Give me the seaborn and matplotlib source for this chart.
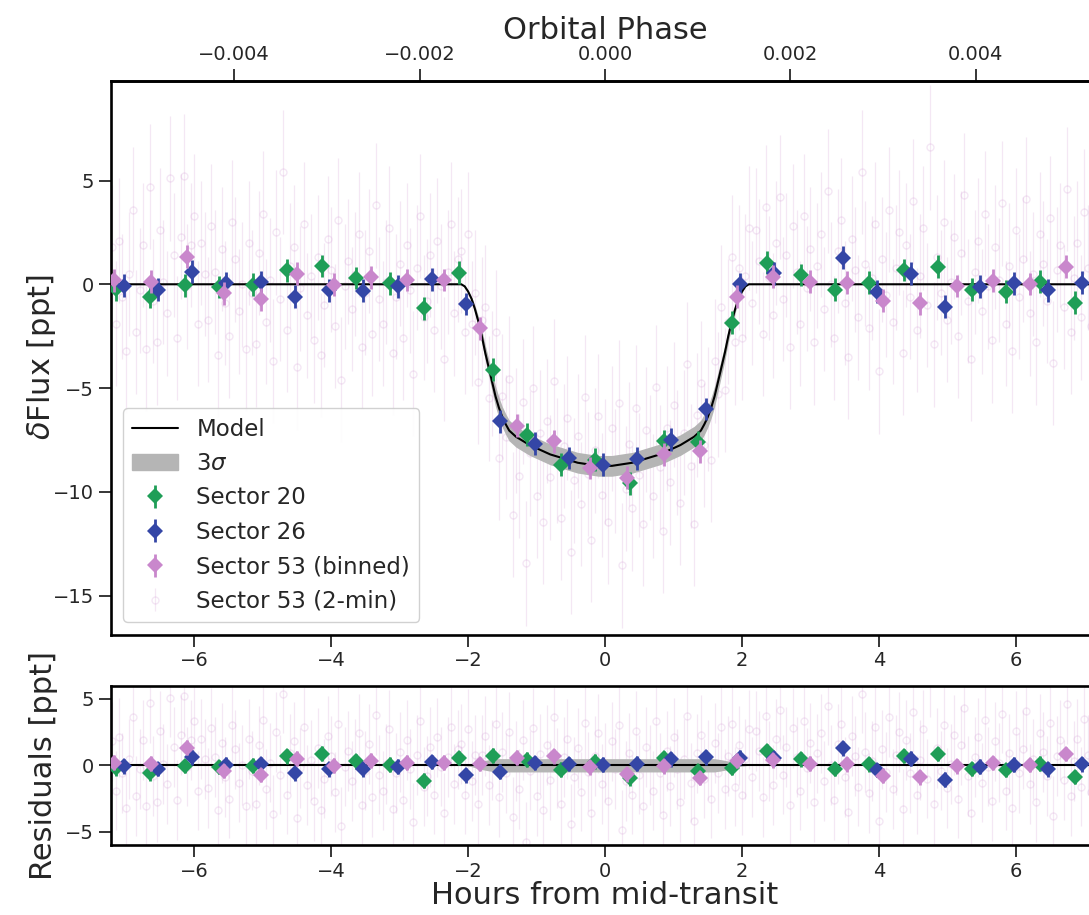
import numpy as np
import matplotlib
matplotlib.use("Agg")
import matplotlib.pyplot as plt
import seaborn as sns
from matplotlib.lines import Line2D
from matplotlib.patches import Patch

# ---------------- data ----------------
# transit model (hours from mid-transit, ppt)
model_hours = [-7.22, -2.10, -2.05, -2.00, -1.95, -1.90, -1.85, -1.80, -1.75, -1.70,
               -1.65, -1.60, -1.55, -1.50, -1.45, -1.40, -1.35, -1.30, -1.20, -1.10,
               -1.00, -0.90, -0.80, -0.70, -0.60, -0.50, -0.40, -0.30, -0.20, -0.10,
               0.00, 0.10, 0.20, 0.30, 0.40, 0.50, 0.60, 0.70, 0.80, 0.90,
               1.00, 1.10, 1.20, 1.30, 1.35, 1.40, 1.45, 1.50, 1.55, 1.60,
               1.65, 1.70, 1.75, 1.80, 1.85, 1.90, 1.95, 2.00, 2.05, 2.10, 7.22]
model_flux = [0.0, 0.0, -0.1, -0.35, -0.7, -1.2, -1.8, -2.5, -3.3, -4.0,
              -4.7, -5.4, -5.95, -6.4, -6.75, -7.05, -7.2, -7.35, -7.55, -7.75,
              -7.9, -8.05, -8.2, -8.3, -8.4, -8.5, -8.6, -8.65, -8.7, -8.75,
              -8.75, -8.75, -8.7, -8.65, -8.6, -8.5, -8.4, -8.3, -8.2, -8.05,
              -7.9, -7.75, -7.55, -7.35, -7.2, -7.05, -6.75, -6.4, -5.95, -5.4,
              -4.7, -4.0, -3.3, -2.5, -1.8, -1.2, -0.7, -0.35, -0.1, 0.0, 0.0]
band_halfwidth = [0.0, 0.0, 0.03, 0.06, 0.1, 0.18, 0.25, 0.32, 0.37, 0.42,
                  0.46, 0.5, 0.5, 0.5, 0.5, 0.5, 0.5, 0.5, 0.5, 0.5,
                  0.5, 0.5, 0.5, 0.5, 0.5, 0.5, 0.5, 0.5, 0.5, 0.5,
                  0.5, 0.5, 0.5, 0.5, 0.5, 0.5, 0.5, 0.5, 0.5, 0.5,
                  0.5, 0.5, 0.5, 0.5, 0.5, 0.5, 0.5, 0.5, 0.5, 0.5,
                  0.46, 0.42, 0.37, 0.32, 0.25, 0.18, 0.1, 0.06, 0.03, 0.0, 0.0]

# Sector 20
s20_hours = [-7.14, -6.64, -6.14, -5.64, -5.14, -4.64, -4.14, -3.64, -3.14, -2.64,
             -2.14, -1.64, -1.14, -0.64, -0.14, 0.36, 0.86, 1.36, 1.86, 2.36,
             2.86, 3.36, 3.86, 4.36, 4.86, 5.36, 5.86, 6.36, 6.86]
s20_flux = [-0.24, -0.6, -0.05, -0.13, -0.03, 0.67, 0.88, 0.3, 0.05, -1.15,
            0.56, -4.12, -7.24, -8.69, -8.45, -9.6, -7.57, -7.6, -1.85, 1.04,
            0.45, -0.27, 0.08, 0.69, 0.85, -0.27, -0.35, 0.13, -0.88]

# Sector 26
s26_hours = [-7.03, -6.53, -6.03, -5.53, -5.03, -4.53, -4.03, -3.53, -3.03, -2.53,
             -2.03, -1.53, -1.03, -0.53, -0.03, 0.47, 0.97, 1.47, 1.97, 2.47,
             3.47, 3.97, 4.47, 4.97, 5.47, 5.97, 6.47, 6.97]
s26_flux = [-0.07, -0.27, 0.6, 0.05, 0.1, -0.6, -0.3, -0.31, -0.1, 0.24,
            -0.95, -6.6, -7.68, -8.37, -8.69, -8.41, -7.49, -6.01, 0.01, 0.53,
            1.28, -0.36, 0.5, -1.08, -0.11, 0.05, -0.3, 0.08]

# Sector 53 (binned)
s53b_hours = [-7.17, -6.635, -6.10, -5.565, -5.03, -4.495, -3.96, -3.425, -2.89, -2.355,
              -1.82, -1.285, -0.75, -0.215, 0.32, 0.855, 1.39, 1.925, 2.46, 2.995,
              3.53, 4.065, 4.60, 5.135, 5.67, 6.205, 6.74]
s53b_flux = [0.2, 0.12, 1.33, -0.43, -0.72, 0.5, -0.03, 0.34, 0.21, 0.21,
             -2.12, -6.81, -7.57, -8.85, -9.33, -8.2, -8.05, -0.6, 0.37, 0.13,
             0.08, -0.79, -0.91, -0.08, 0.17, 0.01, 0.85]

# Sector 53 (2-min), hours -7.20 ... 7.20 every 0.05 h
s53_2min_pre = [1.8, -1.9, 2.1, -0.6, -3.2, 0.5, 3.6, -2.3, -0.3, 1.9, -3.1, 4.7, -0.8, -2.8, 2.6, 0.1, -1.4, 5.1, 1.4, -2.6,
                2.3, 5.2, -0.1, 1.9, 3.3, -1.9, 2.0, 0.5, -1.7, 2.8, 0.6, -3.4, 1.7, -0.9, -2.5, 3.0, 1.2, -1.3, 0.0, -3.1,
                2.0, -0.4, -2.9, 1.5, 3.4, -1.8, 0.2, -3.7, 2.5, -0.7, 5.4, -2.2, 0.9, 1.8, -4.0, -0.2, 2.9, -1.5, 0.4, -2.7,
                1.3, -3.4, -1.0, 2.2, 0.7, -2.0, 3.1, -4.6, -0.1, 1.1, -1.2, 0.5, 2.4, -3.0, -0.4, 1.6, -2.4, 3.8, -0.7, -1.9,
                0.1, 2.7, -3.3, -0.6, 1.0, -2.6, 1.9, -0.3, -4.3, 0.8, 3.3, -1.6, -0.8, 1.4, -2.2, 2.1, -0.1, -3.6, 0.6, 2.9,
                -1.4, 1.2]
s53_2min_in = [1.6, -2.3, 2.4, -1.9, -0.4, -4.7, -1.7, -1.1, -5.5, -4.3,
               -2.3, -8.35, -5.4, -7.35, -4.55, -11.1, -7.05, -9.25, -5.65, -13.45,
               -8.15, -5.0, -10.2, -7.15, -11.45, -6.6, -9.3, -4.65, -8.5, -11.25,
               -7.8, -6.45, -12.9, -9.45, -7.3, -10.6, -5.45, -9.15, -12.3, -8.0,
               -6.35, -10.15, -8.55, -11.45, -6.95, -9.0, -5.7, -13.55, -9.85, -7.7,
               -10.8, -5.95, -9.2, -11.55, -7.0, -8.35, -10.2, -4.95, -8.8, -11.9,
               -6.95, -9.55, -5.8, -8.1, -10.55, -7.15, -3.85, -8.75, -11.55, -6.3,
               -4.75, -7.75, -6.0, -8.45, -3.7, -5.3, -1.1, -5.1, -1.8, 1.3,
               -2.8, 0.8, -2.6, 0.4, 2.7]
s53_2min_post = [-0.9, 2.6, 1.1, -2.4, 3.7, 0.3, -1.5, 2.0, 4.2, -0.7, 1.4, -3.0, 2.8, 0.6, -1.9, 3.3, -0.2, 1.7, -2.8, 0.9,
                 2.4, -1.2, 4.5, 0.0, -2.6, 1.6, 3.1, -0.9, -3.5, 2.2, 0.7, -1.6, 5.4, 1.0, -2.1, 0.3, 2.9, -4.2, 1.2, -0.5,
                 3.6, -1.8, 0.8, 2.5, -3.3, 1.9, -0.6, 4.0, -2.2, 0.4, 2.7, -1.0, 6.6, -2.9, 1.3, -0.4, 3.0, -1.7, 0.1, 2.3,
                 -2.5, 1.5, 4.3, -0.8, -3.6, 0.6, 2.1, -1.3, 3.4, -0.1, -2.7, 1.8, 0.2, 3.9, -1.9, 0.9, -3.2, 2.6, -0.6, 1.2,
                 4.1, -1.4, 0.5, -2.8, 2.4, 1.0, -0.8, 3.2, -3.8, 0.7, 1.9, -1.1, 4.6, -2.3, 0.3, 2.0, -1.6, 3.5, 0.8, -2.0,
                 1.6, -0.7]

period_hours = 1354.0   # 0.002 in phase == 2.708 h

# ---------------- styling ----------------
sns.set_theme(style="ticks")
plt.rcParams.update({
    "font.family": ["DejaVu Sans"],
    "axes.linewidth": 1.9,
    "axes.edgecolor": "black",
    "xtick.major.size": 8.5, "ytick.major.size": 8.5,
    "xtick.major.width": 1.3, "ytick.major.width": 1.3,
    "xtick.labelsize": 14, "ytick.labelsize": 14,
    "xtick.color": "#262626", "ytick.color": "#262626",
    "axes.labelsize": 22, "axes.labelcolor": "#262626",
})

c20 = "#1f9e57"
c26 = "#3446a6"
c53 = "#c987cc"
band_col = "#b5b5b5"

mh = np.array(model_hours)
mf = np.array(model_flux)
bw = np.array(band_halfwidth)

t2 = np.linspace(-7.2, 7.2, 289)
f2 = np.array(s53_2min_pre + s53_2min_in + s53_2min_post)


def resid(h, f):
    return np.asarray(f) - np.interp(h, mh, mf)


fig = plt.figure(figsize=(10.89, 9.15), dpi=100)
ax = fig.add_axes([0.1017, 0.3065, 0.9078, 0.6053])
axr = fig.add_axes([0.1017, 0.0765, 0.9078, 0.1742])

for a, kind in ((ax, "flux"), (axr, "res")):
    if kind == "flux":
        y2, y20, y26, y53 = f2, s20_flux, s26_flux, s53b_flux
        mline = mf
    else:
        y2 = resid(t2, f2)
        y20 = resid(s20_hours, s20_flux)
        y26 = resid(s26_hours, s26_flux)
        y53 = resid(s53b_hours, s53b_flux)
        mline = mf - mf
    e2 = a.errorbar(t2, y2, yerr=3.0, fmt="o", ms=5.0, mfc="none", mec=c53, mew=1.0,
                    ecolor=c53, elinewidth=0.9, alpha=0.2, zorder=1)
    band = a.fill_between(mh, mline - bw, mline + bw, color=band_col, lw=0, zorder=2)
    sns.lineplot(x=mh, y=mline, ax=a, color="black", lw=1.5, zorder=3, legend=False)
    e20 = a.errorbar(s20_hours, y20, yerr=0.55, fmt="D", ms=8, color=c20, mew=0,
                     elinewidth=2.0, capsize=0, zorder=4)
    e26 = a.errorbar(s26_hours, y26, yerr=0.55, fmt="D", ms=8, color=c26, mew=0,
                     elinewidth=2.0, capsize=0, zorder=5)
    e53 = a.errorbar(s53b_hours, y53, yerr=0.55, fmt="D", ms=8, color=c53, mew=0,
                     elinewidth=2.0, capsize=0, zorder=6)
    if kind == "flux":
        handles = [Line2D([], [], color="black", lw=1.5), Patch(color=band_col),
                   e20, e26, e53, e2]

ax.set_xlim(-7.22, 7.22)
axr.set_xlim(-7.22, 7.22)
ax.set_ylim(-16.88, 9.81)
axr.set_ylim(-6.0, 6.0)
ax.set_xticks([-6, -4, -2, 0, 2, 4, 6])
axr.set_xticks([-6, -4, -2, 0, 2, 4, 6])
ax.set_yticks([5, 0, -5, -10, -15])
axr.set_yticks([5, 0, -5])

ax.set_ylabel(r"$\delta$Flux [ppt]")
axr.set_ylabel("Residuals [ppt]")
axr.set_xlabel("Hours from mid-transit", labelpad=0)
ax.yaxis.set_label_coords(-0.053, 0.5)
axr.yaxis.set_label_coords(-0.053, 0.5)

sec = ax.secondary_xaxis("top", functions=(lambda h: h / period_hours,
                                            lambda p: p * period_hours))
sec.set_xticks([-0.004, -0.002, 0.0, 0.002, 0.004])
sec.set_xticklabels(["\u22120.004", "\u22120.002", "0.000", "0.002", "0.004"])
sec.tick_params(labelsize=14, length=8.5, width=1.3)
sec.set_xlabel("Orbital Phase", fontsize=22, labelpad=4)

leg = ax.legend(handles, ["Model", r"3$\sigma$", "Sector 20", "Sector 26",
                          "Sector 53 (binned)", "Sector 53 (2-min)"],
                loc="lower left", bbox_to_anchor=(0.0124, 0.0227), borderaxespad=0,
                fontsize=16.5, frameon=True, fancybox=True, edgecolor="0.8",
                framealpha=0.9, handlelength=2.0)

fig.savefig("out.png", dpi=100)
